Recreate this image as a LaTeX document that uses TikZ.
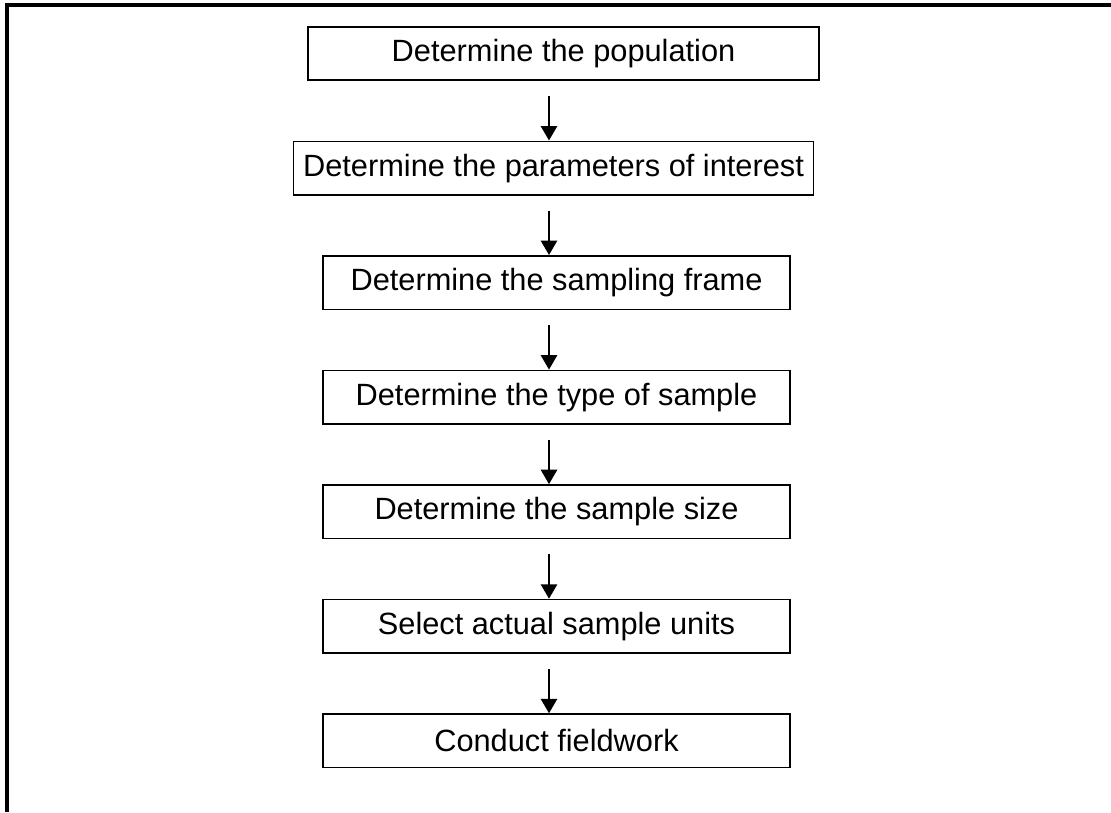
\documentclass[tikz,border=0pt]{standalone}
\usepackage{fontspec}
\setmainfont{Liberation Sans}
\usetikzlibrary{arrows.meta,positioning}

\begin{document}
\begin{tikzpicture}[x=0.02cm,y=0.02cm]
\tikzset{
     stepbox/.style={draw, line width=0.9pt, minimum height=1.07cm, minimum width=9.34cm,
                     inner sep=0pt, font=\fontsize{17.5}{20}\selectfont},
     flow/.style={-{Triangle[length=0.29cm,width=0.32cm]}, line width=1.6pt},
     borderline/.style={line width=1.9pt}}
\useasboundingbox (0,0) rectangle (1111,-812);

% The border
\draw [borderline] (7,-812) -- (7,-5) -- (1111,-5);

% The steps
\node (population) [stepbox, minimum width=10.22cm] at (563.5,-53.5) {Determine the population};
\node (parameters) [stepbox, minimum width=10.4cm, below=1.19cm of population, xshift=-0.2cm] {Determine the parameters of interest};
\node (samplingframe) [stepbox, below=1.19cm of parameters, xshift=0.06cm] {Determine the sampling frame};
\node (sampletype) [stepbox, below=1.19cm of samplingframe] {Determine the type of sample};
\node (samplesize) [stepbox, below=1.19cm of sampletype] {Determine the sample size};
\node (units) [stepbox, below=1.19cm of samplesize] {Select actual sample units};
\node (fieldwork) [stepbox, below=1.19cm of units] {Conduct fieldwork};

% The arrows
\coordinate (spine) at (549,0);
\foreach \a/\b in {population/parameters, parameters/samplingframe, samplingframe/sampletype,
                   sampletype/samplesize, samplesize/units, units/fieldwork}
  \draw [flow] (\a.south -| spine) ++(0,-15) -- (\b.north -| spine);
\end{tikzpicture}
\end{document}
